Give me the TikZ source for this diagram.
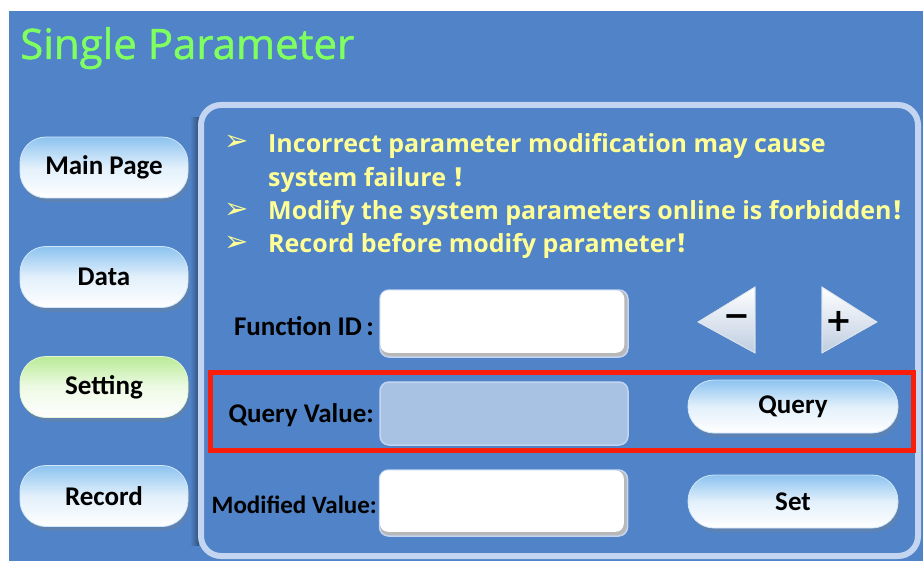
\documentclass[tikz,border=0pt]{standalone}
\usepackage{fontspec}
\setmainfont{Open Sans}
\newfontfamily\ttlfont[FakeBold=1.2]{Open Sans}
\newfontfamily\calib{Carlito}
\newfontfamily\cjk{Noto Sans CJK SC}
\newfontfamily\symf{DejaVu Sans}
\usetikzlibrary{shadows,calc}
\definecolor{bg}{RGB}{80,131,199}
\definecolor{ttl}{RGB}{128,255,96}
\definecolor{ylw}{RGB}{255,255,150}
\definecolor{rim}{RGB}{195,213,240}
\definecolor{qfill}{RGB}{168,194,228}
\definecolor{redbox}{RGB}{250,30,10}
\definecolor{btop}{RGB}{140,195,240}
\definecolor{gtop}{RGB}{185,235,150}
\definecolor{tri}{RGB}{190,205,225}
\begin{document}
\begin{tikzpicture}[x=1pt,y=-1pt,
  pill/.style={rounded corners=26pt, top color=btop, bottom color=white, middle color=white!75!btop,
    draw=white!60!btop, line width=0.8pt,
    drop shadow={opacity=0.3, shadow xshift=2pt, shadow yshift=-4pt},
    font=\calib\bfseries\fontsize{27}{27}\selectfont, text=black, inner sep=0pt},
  tbox/.style={fill=black!28, draw=rim, line width=1.5pt, rounded corners=9pt, inner sep=0pt,
    minimum width=248pt},
  lbl/.style={font=\calib\bfseries\fontsize{27}{27}\selectfont, text=black, inner sep=0pt},
  bul/.style={font=\bfseries\fontsize{25}{25}\selectfont, text=ylw, inner sep=0pt, anchor=base west},
  arr/.style={font=\symf\fontsize{29}{29}\selectfont, text=ylw, inner sep=0pt},
  trishape/.style={top color=white, bottom color=tri, draw=white!80!tri, line width=0.6pt},
  sign/.style={font=\symf\bfseries\fontsize{32}{32}\selectfont, text=black, inner sep=0pt}
]
\useasboundingbox (0,0) rectangle (923,561);
\fill[white] (0,0) rectangle (923,561);
\fill[bg] (9,11) rectangle (923,561);

% title
\node[font=\ttlfont\fontsize{42}{42}\selectfont, text=ttl, anchor=base west, inner sep=0pt] (title) at (20,59) {Single Parameter};

% panel
\shade[left color=bg, right color=bg!62!black] (190,118) rectangle (199,545);
\draw[rim, line width=6pt, rounded corners=20pt] (201,105) rectangle (918,556);

% left buttons
\node[pill, minimum width=168pt, minimum height=61pt] (main) at (104,167.5) {Main Page};
\node[pill, minimum width=168pt, minimum height=61pt] (data) at (104,277) {Data};
\node[pill, top color=gtop, middle color=white!75!gtop, draw=white!60!gtop, minimum width=168pt, minimum height=61pt] (setting) at (104,387) {Setting};
\node[pill, minimum width=168pt, minimum height=61pt] (record) at (104,496) {Record};

% bullets
\node[arr] (a1) at (237,143) {➢};
\node[arr] (a2) at (237,211) {➢};
\node[arr] (a3) at (237,244) {➢};
\node[bul] (b1) at (268,153) {Incorrect parameter modification may cause};
\node[bul] (b2) at (268,187) {system failure {\cjk ！}};
\node[bul] (b3) at (268,220) {Modify the system parameters online is forbidden{\cjk ！}};
\node[bul] (b4) at (268,253) {Record before modify parameter{\cjk ！}};

% function id row
\node[lbl, anchor=base east] (fidl) at (374,335) {Function ID\,:};
\node[tbox, minimum height=67pt] (fid) at (504,323.5) {};
\fill[white, rounded corners=8pt] ($(fid.north west)+(1.2,1.2)$) rectangle ($(fid.south east)+(-4.5,-5)$);
\fill[trishape] (755,287) -- (755,353) -- (698,322) -- cycle;
\fill[trishape] (822,287) -- (822,353) -- (877,322) -- cycle;
\draw[tri!60!white, line width=0.6pt] (755,287) -- (755,353) -- (698,322) -- cycle;
\draw[tri!60!white, line width=0.6pt] (822,287) -- (822,353) -- (877,322) -- cycle;
\node[sign] (minus) at (737,321) {−};
\node[sign] (plus) at (839,321) {+};

% query row
\node[draw=redbox, line width=5pt, minimum width=702.5pt, minimum height=77.5pt, inner sep=0pt] (qbox) at (561.75,411.25) {};
\node[lbl, anchor=base east] (qvl) at (374,422) {Query Value:};
\node[tbox, fill=qfill, minimum height=63pt] (qv) at (504,413.5) {};
\node[pill, minimum width=210pt, minimum height=53pt] (query) at (793,406.5) {Query};

% modified row
\node[lbl, anchor=base east, font=\calib\bfseries\fontsize{25}{25}\selectfont] (mvl) at (377,513) {Modified Value:};
\node[tbox, minimum height=66pt] (mv) at (503.5,503) {};
\fill[white, rounded corners=8pt] ($(mv.north west)+(1.2,1.2)$) rectangle ($(mv.south east)+(-4.5,-5)$);
\node[pill, minimum width=210pt, minimum height=53pt] (set) at (793,501.5) {Set};
\end{tikzpicture}
\end{document}
